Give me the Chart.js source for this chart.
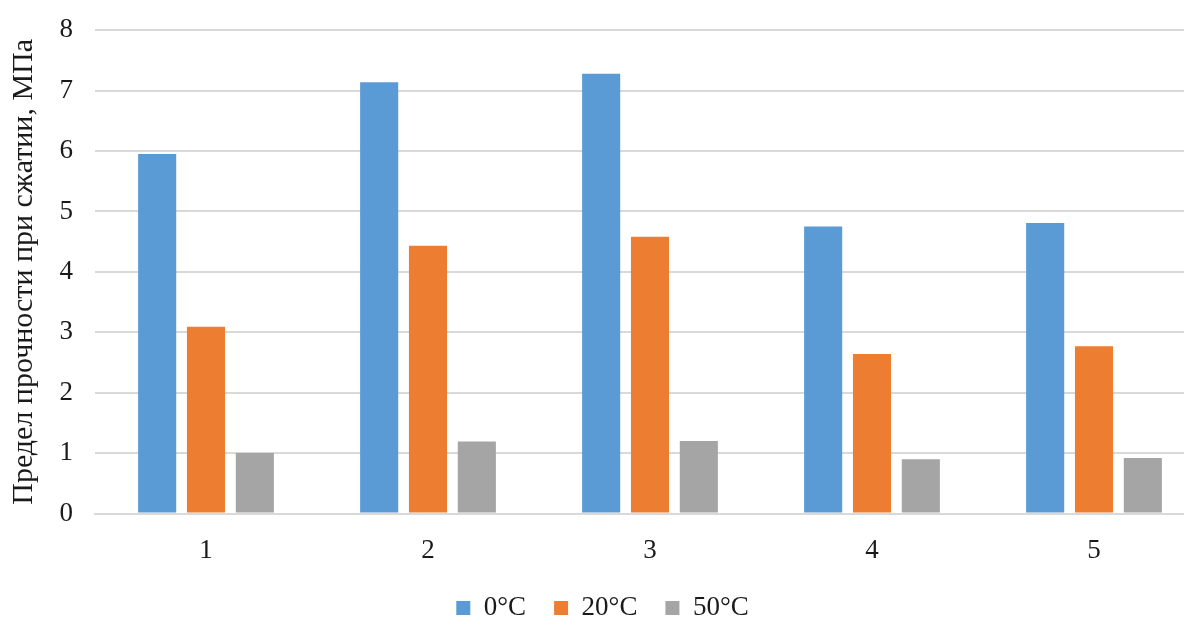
<!DOCTYPE html>
<html>
<head>
<meta charset="utf-8">
<script src="https://cdn.jsdelivr.net/npm/chart.js@4"></script>
<style>
  html, body { margin: 0; padding: 0; background: #fff; overflow: hidden; }
  #wrap { width: 1205px; height: 639.5px; margin-top: -8.5px; position: relative; }
</style>
</head>
<body>
<div id="wrap"><canvas id="chart"></canvas></div>
<script>
const categories = ["1", "2", "3", "4", "5"]
const seriesNames = ["0°C", "20°C", "50°C"]
const values0 = [5.95, 7.14, 7.28, 4.75, 4.81]
const values20 = [3.09, 4.43, 4.58, 2.64, 2.77]
const values50 = [1.0, 1.19, 1.2, 0.9, 0.92]
const colors = ["#5B9BD5", "#ED7D31", "#A5A5A5"]

const font = "'Liberation Serif', 'Times New Roman', serif"
const gridColor = "#d9d9d9"
const textColor = "#1a1a1a"

new Chart(document.getElementById("chart"), {
  type: "bar",
  data: {
    labels: categories,
    datasets: [values0, values20, values50].map((v, i) => ({
      label: seriesNames[i],
      data: v,
      backgroundColor: colors[i],
      borderWidth: 0,
      categoryPercentage: 0.66,
      barPercentage: 0.78
    }))
  },
  options: {
    responsive: true,
    maintainAspectRatio: false,
    animation: false,
    layout: { padding: { top: 13.5, left: 0, right: 0, bottom: 0 } },
    plugins: {
      tooltip: { enabled: false },
      legend: {
        position: "bottom",
        labels: {
          font: { family: font, size: 27 },
          color: textColor,
          boxWidth: 14,
          boxHeight: 14,
          padding: 28
        }
      }
    },
    scales: {
      x: {
        grid: { display: false },
        border: { color: gridColor, width: 2 },
        ticks: { font: { family: font, size: 27 }, color: textColor, padding: 13 },
        afterFit: s => { s.height = 53 }
      },
      y: {
        min: 0,
        max: 8,
        ticks: { stepSize: 1, font: { family: font, size: 27 }, color: textColor, padding: 22 },
        grid: { color: gridColor, lineWidth: 2, drawTicks: false },
        border: { display: false },
        title: {
          display: true,
          text: "Предел прочности при сжатии, МПа",
          font: { family: font, size: 30 },
          color: textColor,
          padding: { top: 6, bottom: 0 }
        },
        afterFit: s => { s.width = 95 }
      }
    }
  }
})
</script>
</body>
</html>
